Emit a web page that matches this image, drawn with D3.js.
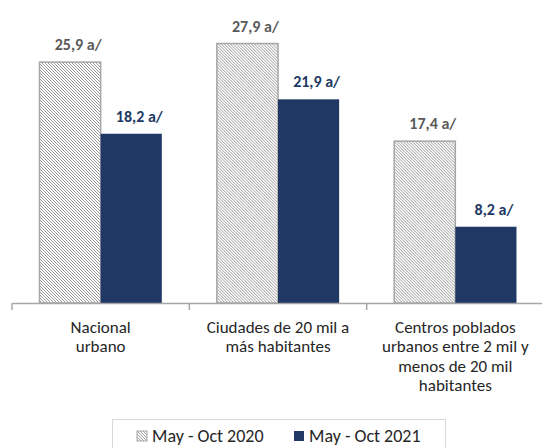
<!DOCTYPE html>
<html>
<head>
<meta charset="utf-8">
<script src="https://cdn.jsdelivr.net/npm/d3@7"></script>
<style>
  body { margin: 0; background: #fff; }
  text { font-family: Carlito, Lato, "Open Sans", sans-serif; }
</style>
</head>
<body>
<div id="chart"></div>
<script>
// categories (multi-line labels) and the two periods
var categories = [
  ['Nacional', 'urbano'],
  ['Ciudades de 20 mil a', 'más habitantes'],
  ['Centros poblados', 'urbanos entre 2 mil y', 'menos de 20 mil', 'habitantes']
];
var series = ['May - Oct 2020', 'May - Oct 2021'];
var values2020 = [25.9, 27.9, 17.4];
var values2021 = [18.2, 21.9, 8.2];
var labels2020 = ['25,9 a/', '27,9 a/', '17,4 a/'];
var labels2021 = ['18,2 a/', '21,9 a/', '8,2 a/'];

var width = 542,
    height = 448;

var svg = d3.select('#chart').append('svg')
    .attr('width', width)
    .attr('height', height);

// diagonal hatch for the 2020 bars
var defs = svg.append('defs');
defs.append('pattern')
    .attr('id', 'hatch')
    .attr('patternUnits', 'userSpaceOnUse')
    .attr('width', 3)
    .attr('height', 3)
  .call(function(p) {
    p.append('rect').attr('width', 3).attr('height', 3).attr('fill', '#fff');
    p.append('path')
      .attr('d', 'M0,0 L3,3 M-1,2 L1,4 M2,-1 L4,1')
      .attr('stroke', '#8c8c8c')
      .attr('stroke-width', 0.9);
  });

var x0 = d3.scaleBand()
    .domain(d3.range(categories.length))
    .range([12, 544])
    .padding(0);

var x1 = d3.scaleBand()
    .domain(series)
    .range([0, x0.bandwidth()])
    .paddingInner(0)
    .paddingOuter(0.45);

var y = d3.scaleLinear()
    .domain([0, 30])
    .range([303, 24]);

var colors = ['url(#hatch)', '#203864'];
var labelColors = ['#595959', '#203864'];

var rows = categories.map(function(c, i) {
  return [
    {s: series[0], v: values2020[i], l: labels2020[i], k: 0},
    {s: series[1], v: values2021[i], l: labels2021[i], k: 1}
  ];
});

var groups = svg.selectAll('g.grp').data(rows)
  .enter().append('g')
    .attr('class', 'grp')
    .attr('transform', function(d, i) { return 'translate(' + x0(i) + ',0)'; });

groups.selectAll('rect').data(function(d) { return d; })
  .enter().append('rect')
    .attr('x', function(d) { return x1(d.s); })
    .attr('width', x1.bandwidth())
    .attr('y', function(d) { return y(d.v); })
    .attr('height', function(d) { return y(0) - y(d.v); })
    .style('fill', function(d) { return colors[d.k]; })
    .style('stroke', function(d) { return d.k === 0 ? '#a6a6a6' : 'none'; })
    .style('stroke-width', 1.5);

groups.selectAll('text.val').data(function(d) { return d; })
  .enter().append('text')
    .attr('class', 'val')
    .attr('x', function(d) { return x1(d.s) + x1.bandwidth() / 2 + 8; })
    .attr('y', function(d) { return y(d.v) - 12; })
    .attr('text-anchor', 'middle')
    .style('font-size', '16px')
    .style('font-weight', 'bold')
    .style('fill', function(d) { return labelColors[d.k]; })
    .text(function(d) { return d.l; });

// x axis line with tick marks between categories
var axis = d3.axisBottom(x0).tickSize(0).tickFormat('');
svg.append('g')
    .attr('transform', 'translate(0,303)')
    .call(axis)
    .call(function(g) { g.select('.domain').attr('stroke', '#a6a6a6').attr('stroke-width', 1.5); });

svg.append('g').selectAll('line')
    .data(d3.range(categories.length))
  .enter().append('line')
    .attr('x1', function(i) { return x0(i); })
    .attr('x2', function(i) { return x0(i); })
    .attr('y1', 303)
    .attr('y2', 310)
    .attr('stroke', '#a6a6a6')
    .attr('stroke-width', 1.5);

// category labels
var cat = svg.append('g').selectAll('text')
    .data(categories)
  .enter().append('text')
    .attr('text-anchor', 'middle')
    .style('font-size', '17px')
    .style('fill', '#262626');

cat.selectAll('tspan').data(function(d, i) { return d.map(function(t) { return {t: t, i: i}; }); })
  .enter().append('tspan')
    .attr('x', function(d) { return x0(d.i) + x0.bandwidth() / 2; })
    .attr('y', function(d, j) { return 333 + j * 19.3; })
    .text(function(d) { return d.t; });

// legend
svg.append('rect')
    .attr('x', 112.5)
    .attr('y', 419.5)
    .attr('width', 333)
    .attr('height', 40)
    .attr('fill', 'none')
    .attr('stroke', '#d9d9d9');

var legendX = [137, 294];
var leg = svg.append('g').selectAll('g')
    .data(series)
  .enter().append('g')
    .attr('transform', function(d, i) { return 'translate(' + legendX[i] + ',431)'; });

leg.append('rect')
    .attr('width', 10)
    .attr('height', 10)
    .style('fill', function(d, i) { return colors[i]; })
    .style('stroke', function(d, i) { return i === 0 ? '#a6a6a6' : 'none'; });

leg.append('text')
    .attr('x', 15)
    .attr('y', 11)
    .style('font-size', '18px')
    .style('fill', '#262626')
    .text(function(d) { return d; });
</script>
</body>
</html>
